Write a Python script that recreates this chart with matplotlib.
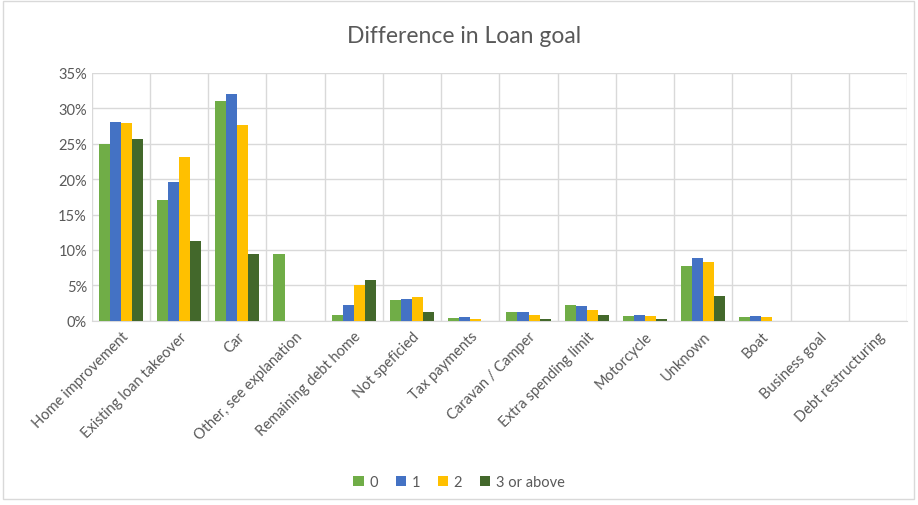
import matplotlib.pyplot as plt
import matplotlib.ticker as ticker
from matplotlib.patches import Rectangle
import numpy as np

categories = ['Home improvement', 'Existing loan takeover', 'Car', 'Other, see explanation',
              'Remaining debt home', 'Not speficied', 'Tax payments', 'Caravan / Camper',
              'Extra spending limit', 'Motorcycle', 'Unknown', 'Boat', 'Business goal',
              'Debt restructuring']
series_names = ['0', '1', '2', '3 or above']
s0 = [25.0, 17.0, 31.0, 9.4, 0.86, 2.95, 0.43, 1.19, 2.24, 0.71, 7.8, 0.57, 0.0, 0.0]
s1 = [28.0, 19.6, 32.0, 0.0, 2.2, 3.1, 0.57, 1.29, 2.14, 0.85, 8.9, 0.71, 0.0, 0.0]
s2 = [27.9, 23.1, 27.7, 0.0, 5.05, 3.33, 0.29, 0.86, 1.57, 0.66, 8.3, 0.47, 0.0, 0.0]
s3 = [25.7, 11.2, 9.5, 0.0, 5.7, 1.19, 0.0, 0.29, 0.86, 0.24, 3.44, 0.0, 0.0, 0.0]
colors = ['#70AD47', '#4472C4', '#FFC000', '#43682B']

txt = '#595959'
grid_c = '#D9D9D9'
plt.rcParams['font.family'] = ['Lato', 'DejaVu Sans']

fig = plt.figure(figsize=(9.18, 5.06), dpi=100)
ax = fig.add_axes([0.100, 0.364, 0.888, 0.490])

x = np.arange(len(categories))
w = 0.19
for i, (vals, name) in enumerate(zip([s0, s1, s2, s3], series_names)):
    ax.bar(x + (i - 1.5) * w, vals, w, color=colors[i], label=name, zorder=3)

ax.set_xlim(-0.5, len(categories) - 0.5)
ax.set_ylim(0, 35)
ax.yaxis.set_major_locator(ticker.MultipleLocator(5))
ax.yaxis.set_major_formatter(ticker.FuncFormatter(lambda v, p: f'{v:.0f}%'))
ax.set_xticks(x)
ax.set_xticklabels(categories, rotation=45, ha='right', rotation_mode='anchor')
ax.set_xticks(np.arange(-0.5, len(categories)), minor=True)
ax.grid(True, axis='y', color=grid_c, linewidth=1, zorder=0)
ax.grid(True, axis='x', which='minor', color=grid_c, linewidth=1, zorder=0)
ax.tick_params(axis='both', which='both', length=0, colors=txt, labelsize=10.5)
ax.tick_params(axis='x', pad=6)
for side in ['top', 'right', 'left']:
    ax.spines[side].set_visible(False)
ax.spines['bottom'].set_color(grid_c)

fig.text(0.505, 0.927, 'Difference in Loan goal', fontsize=16.5, color=txt,
         ha='center', va='center')

fig.legend(loc='lower center', bbox_to_anchor=(0.5, 0.005), ncol=4, frameon=False,
           fontsize=10.5, handlelength=0.7, handleheight=0.7, handletextpad=0.4,
           columnspacing=1.2, labelcolor=txt)

fig.patches.append(Rectangle((0.003, 0.012), 0.993, 0.985, transform=fig.transFigure,
                             fill=False, edgecolor=grid_c, linewidth=1))

fig.savefig('out.png', dpi=100)
